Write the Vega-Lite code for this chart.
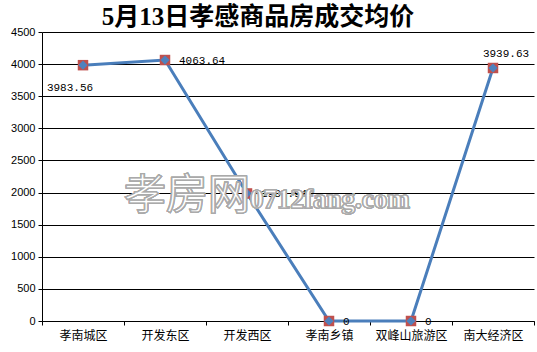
{
  "$schema": "https://vega.github.io/schema/vega-lite/v6.json",
  "width": 492,
  "height": 289,
  "autosize": {"type": "none"},
  "padding": {"left": 42, "top": 32, "right": 3, "bottom": 31},
  "background": "white",
  "title": {
    "text": "5月13日孝感商品房成交均价",
    "font": "Liberation Serif, Noto Sans CJK SC",
    "fontSize": 25,
    "fontWeight": "bold",
    "color": "#000000",
    "anchor": "middle",
    "dx": -30,
    "offset": -4
  },
  "config": {"view": {"stroke": null}},
  "data": {
    "values": [
      {"区域": "孝南城区", "均价": 3983.56, "标签": "3983.56"},
      {"区域": "开发东区", "均价": 4063.64, "标签": "4063.64"},
      {"区域": "开发西区", "均价": 1985.94, "标签": "1985.94"},
      {"区域": "孝南乡镇", "均价": 0, "标签": "0"},
      {"区域": "双峰山旅游区", "均价": 0, "标签": "0"},
      {"区域": "南大经济区", "均价": 3939.63, "标签": "3939.63"}
    ]
  },
  "encoding": {
    "x": {
      "field": "区域",
      "type": "nominal",
      "sort": null,
      "bandPosition": 0.5,
      "scale": {"type": "band", "paddingInner": 0, "paddingOuter": 0},
      "axis": {
        "title": null,
        "labelAngle": 0,
        "tickBand": "extent",
        "grid": false,
        "domainColor": "#000000",
        "tickColor": "#000000",
        "tickSize": 4,
        "labelFont": "Noto Sans CJK SC",
        "labelFontSize": 12,
        "labelColor": "#000000",
        "labelPadding": 5
      }
    },
    "y": {
      "field": "均价",
      "type": "quantitative",
      "scale": {"domain": [0, 4500], "nice": false},
      "axis": {
        "title": null,
        "values": [0, 500, 1000, 1500, 2000, 2500, 3000, 3500, 4000, 4500],
        "format": "d",
        "grid": true,
        "gridColor": "#000000",
        "gridOpacity": 1,
        "domainColor": "#000000",
        "tickColor": "#000000",
        "tickSize": 4,
        "labelFont": "Liberation Sans",
        "labelFontSize": 11,
        "labelColor": "#000000",
        "labelPadding": 3
      }
    }
  },
  "layer": [
    {"mark": {"type": "line", "color": "#4a7ebb", "strokeWidth": 3}},
    {"mark": {"type": "point", "shape": "square", "filled": true, "color": "#c0504d", "size": 110, "opacity": 1}},
    {"mark": {"type": "point", "shape": "diamond", "filled": true, "color": "#4f81bd", "size": 85, "opacity": 1}},
    {
      "transform": [{"filter": "datum['区域'] == '孝南城区'"}],
      "mark": {"type": "text", "font": "Liberation Mono", "fontSize": 11, "color": "#000000", "align": "center", "baseline": "middle", "dx": -13, "dy": 23},
      "encoding": {"text": {"field": "标签"}}
    },
    {
      "transform": [{"filter": "datum['区域'] != '孝南城区' && datum['区域'] != '南大经济区'"}],
      "mark": {"type": "text", "font": "Liberation Mono", "fontSize": 11, "color": "#000000", "align": "left", "baseline": "middle", "dx": 14, "dy": 1},
      "encoding": {"text": {"field": "标签"}}
    },
    {
      "transform": [{"filter": "datum['区域'] == '南大经济区'"}],
      "mark": {"type": "text", "font": "Liberation Mono", "fontSize": 11, "color": "#000000", "align": "center", "baseline": "middle", "dx": 13, "dy": -14},
      "encoding": {"text": {"field": "标签"}}
    },
    {
      "mark": {"type": "text", "text": "孝房网", "font": "Noto Sans CJK SC", "fontSize": 42, "fill": "#ffffff", "fillOpacity": 0.7, "stroke": "#aaaaaa", "strokeWidth": 1.2, "align": "right", "baseline": "middle", "dx": 3},
      "encoding": {
        "x": {"datum": "开发西区", "type": "nominal", "bandPosition": 0.5},
        "y": {"datum": 1946, "type": "quantitative"}
      }
    },
    {
      "mark": {"type": "text", "text": "0712fang.com", "font": "Liberation Serif", "fontSize": 27, "fontWeight": "bold", "fill": "#ffffff", "fillOpacity": 0.7, "stroke": "#aaaaaa", "strokeWidth": 1.2, "align": "left", "baseline": "alphabetic", "dx": 3, "dy": 12},
      "encoding": {
        "x": {"datum": "开发西区", "type": "nominal", "bandPosition": 0.5},
        "y": {"datum": 1946, "type": "quantitative"}
      }
    }
  ]
}
